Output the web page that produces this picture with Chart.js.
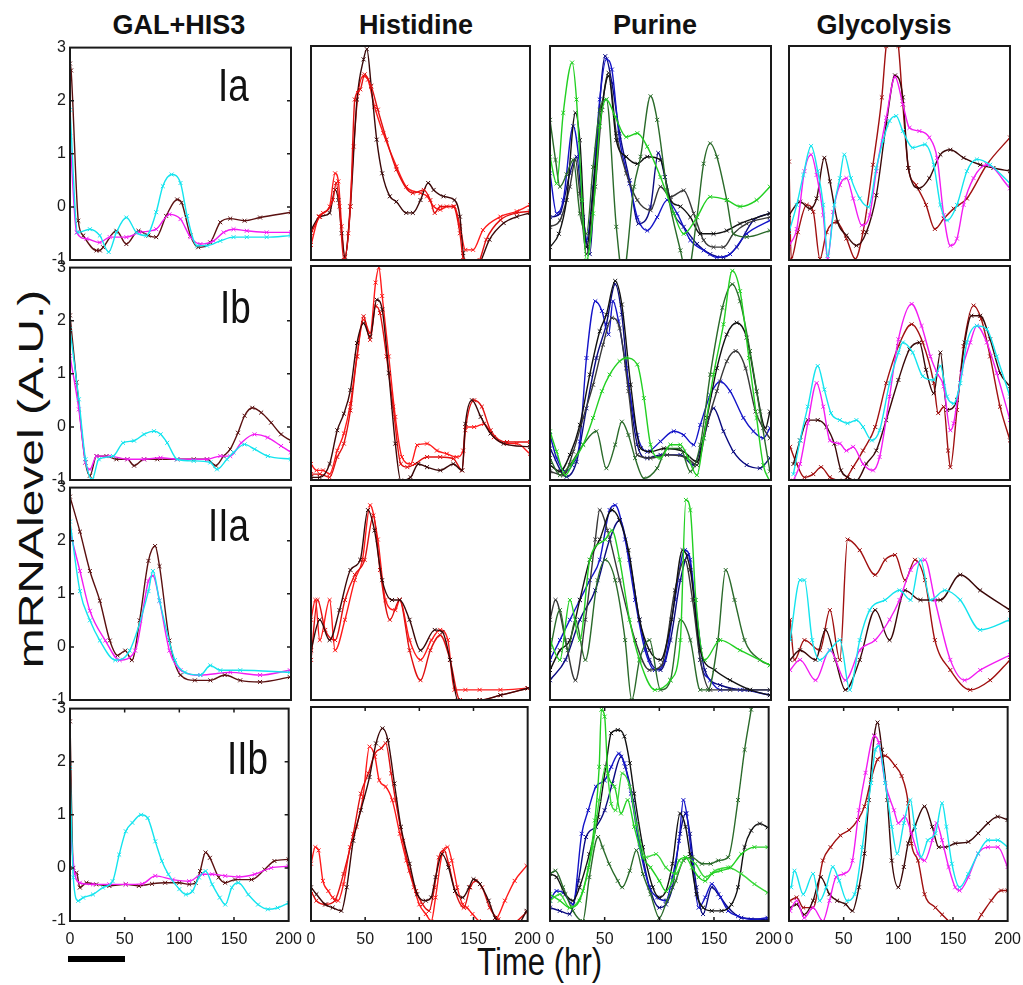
<!DOCTYPE html>
<html>
<head>
<meta charset="utf-8">
<script src="https://cdn.jsdelivr.net/npm/chart.js@4/dist/chart.umd.min.js"></script>
<style>
  html, body { margin: 0; padding: 0; background: #fff; }
  body { width: 1023px; height: 985px; position: relative; overflow: hidden; font-family: "Liberation Sans", Arial, sans-serif; }
  canvas { position: absolute; }
  .title { position: absolute; font-weight: bold; font-size: 27px; line-height: 27px; color: #111; transform: translateX(-50%); white-space: nowrap; }
  .plabel { position: absolute; font-size: 46px; line-height: 46px; color: #111; transform-origin: left top; transform: scaleX(0.8); white-space: nowrap; }
  .ytitle { position: absolute; font-size: 48px; line-height: 48px; color: #111; white-space: nowrap; left: 31px; top: 479px; transform: translate(-50%, -50%) rotate(-90deg) scaleY(0.72); }
  .xtitle { position: absolute; font-size: 38px; line-height: 38px; color: #111; white-space: nowrap; left: 477px; top: 943px; transform-origin: left top; transform: scaleX(0.82); }
  .bar { position: absolute; left: 68px; top: 956px; width: 57px; height: 6px; background: #000; }
</style>
</head>
<body>
<div class="title" style="left:179px; top:12px;">GAL+HIS3</div>
<div class="title" style="left:416px; top:12px;">Histidine</div>
<div class="title" style="left:655px; top:12px;">Purine</div>
<div class="title" style="left:884px; top:12px;">Glycolysis</div>
<div class="ytitle">mRNAlevel (A.U.)</div>
<div class="xtitle">Time (hr)</div>
<div class="bar"></div>
<script>
// ---------------- axis ticks ----------------
const yTicks = [-1, 0, 1, 2, 3];
const xTicks = [0, 50, 100, 150, 200];
const panelNames = ["Ia", "Ib", "IIa", "IIb"];
const columnNames = ["GAL+HIS3", "Histidine", "Purine", "Glycolysis"];

// ---------------- Row Ia ----------------
const galIaBrown = [[0,2.7],[1,2.57],[7.5,-0.26],[12,-0.54],[24,-0.82],[27,-0.82],[30,-0.76],[42,-0.45],[51,-0.7],[62,-0.45],[71,-0.54],[78,-0.57],[87,-0.17],[97,0.14],[101,0.08],[109,-0.54],[116,-0.76],[127,-0.67],[136,-0.29],[145,-0.22],[158,-0.26],[172,-0.2],[200,-0.1]];
const galIaMagenta = [[0,1.33],[6,-0.48],[15,-0.6],[27,-0.67],[36,-0.57],[51,-0.57],[63,-0.48],[78,-0.42],[90,-0.14],[100,-0.23],[109,-0.57],[118,-0.7],[130,-0.64],[139,-0.48],[148,-0.42],[160,-0.45],[178,-0.48],[200,-0.48]];
const galIaCyan = [[0,1.83],[7,-0.48],[18,-0.42],[27,-0.54],[35,-0.85],[42,-0.48],[51,-0.2],[60,-0.48],[69,-0.54],[78,-0.1],[84,0.39],[92,0.61],[100,0.45],[106,-0.17],[115,-0.73],[124,-0.73],[136,-0.64],[148,-0.57],[160,-0.57],[178,-0.57],[200,-0.54]];

const hisIaRed1 = [[0,-0.72],[7,-0.19],[11,-0.12],[17,0],[22,0.62],[25,0.47],[28,-0.37],[31,-0.97],[34,-0.5],[39,1.12],[43,2.12],[48,2.44],[52,2.37],[58,1.87],[66,1.37],[78,0.75],[87,0.37],[100,0.25],[106,0.19],[112,0],[118,-0.06],[124,0],[131,0],[136,-0.37],[141,-0.81],[148,-0.81],[157,-0.44],[173,-0.19],[188,-0.09],[200,0.03]];
const hisIaRed2 = [[0,-0.5],[8,-0.19],[20,0.12],[23,0.44],[26,0],[30,-1],[36,0],[40,2],[45,2.19],[49,2.47],[55,2.25],[61,1.81],[69,1.25],[78,0.69],[93,0.25],[103,0.31],[109,0.12],[113,-0.12],[118,0],[130,0],[136,-0.5],[139,-1],[143,-1.2],[154,-1],[160,-0.62],[173,-0.25],[188,-0.12],[200,-0.09]];
const hisIaBrown = [[0,-0.44],[8,-0.19],[17,-0.12],[22,0.31],[25,0.12],[28,-0.5],[31,-0.94],[36,0],[42,2],[48,2.75],[51,2.94],[55,2.25],[60,1.25],[65,0.62],[72,0.19],[78,0.09],[87,-0.12],[93,-0.12],[100,0.12],[107,0.44],[112,0.31],[121,0.19],[131,0.12],[136,-0.19],[139,-0.87],[145,-1.2],[154,-1.06],[163,-0.62],[176,-0.31],[188,-0.19],[200,-0.12]];

const purIaGreen = [[0,0.93],[6,0.43],[12,1.75],[20,2.69],[24,2.0],[29,0.12],[33,-1.01],[39,-0.13],[45,1.5],[51,2.0],[59,1.68],[69,1.3],[79,1.37],[88,1.12],[100,0.55],[112,-0.13],[121,-0.51],[133,-0.2],[145,0.18],[160,0.12],[172,0],[187,0.12],[199,0.37]];
const purIaDkGreen = [[0,1.62],[5,0.87],[9,0.37],[15,0.6],[21,0.87],[27,-0.13],[33,-0.51],[39,0.74],[45,1.8],[51,2.0],[60,-0.38],[66,-1.3],[76,0.37],[82,0.93],[91,2.06],[97,1.62],[106,0.3],[118,-0.82],[124,-1.3],[133,-0.2],[139,0.8],[145,1.18],[151,0.93],[160,0.12],[166,-0.51],[178,-0.57],[199,-0.45]];
const purIaBlue1 = [[0,0.62],[6,-0.13],[12,0.12],[21,1.5],[27,0.74],[33,-0.63],[39,0.37],[45,2.0],[51,2.75],[56,2.56],[63,1.24],[72,0.43],[79,-0.2],[88,-0.45],[97,-0.2],[106,0.12],[115,-0.13],[127,-0.63],[139,-0.82],[151,-0.95],[163,-0.89],[178,-0.51],[199,-0.26]];
const purIaBlue2 = [[0,-0.2],[9,-0.13],[18,0.62],[24,0.93],[30,-0.2],[36,-0.89],[42,1.06],[50,2.81],[56,2.31],[63,1.37],[72,0.49],[80,-0.32],[91,-0.01],[98,1.0],[104,0.55],[112,-0.13],[121,-0.38],[133,-0.7],[145,-0.89],[157,-0.95],[169,-0.76],[184,-0.26],[199,-0.13]];
const purIaBlack1 = [[0,-0.76],[8,-0.51],[15,0.12],[23,1.75],[27,1.24],[33,-0.76],[41,0.74],[47,1.87],[53,2.44],[60,1.24],[69,0.93],[79,0.8],[88,0.93],[100,0.87],[109,0.12],[118,0],[127,-0.2],[136,-0.51],[148,-0.51],[160,-0.45],[172,-0.32],[199,-0.13]];
const purIaBlack2 = [[0,-0.38],[9,-0.26],[18,0.37],[23,0.87],[27,0.24],[33,-0.89],[41,0.37],[47,1.8],[53,2.5],[60,1.37],[69,0.62],[79,0.12],[91,-0.07],[100,0.37],[109,0.18],[121,0.3],[130,-0.13],[139,-0.63],[148,-0.76],[157,-0.76],[166,-0.51],[178,-0.32],[199,-0.2]];

const glyIaCyan = [[0,-0.48],[7,0.03],[13,0.59],[20,1.13],[26,0.66],[31,0.03],[35,-0.92],[41,0.03],[46,0.53],[50,0.97],[56,0.53],[64,0.15],[72,-0.01],[79,0.72],[85,1.22],[91,1.6],[97,1.69],[103,1.41],[112,1.1],[123,1.16],[131,0.78],[137,0.03],[143,-0.26],[152,0.03],[161,0.66],[170,0.88],[182,0.78],[200,0.43]];
const glyIaMagenta = [[0,-0.73],[7,-0.42],[14,0.66],[20,0.97],[25,0.59],[31,-0.16],[35,-0.98],[40,-0.1],[46,0.4],[52,0.53],[58,0.15],[66,-0.35],[73,-0.16],[79,0.66],[88,1.66],[96,2.42],[103,1.91],[109,1.47],[118,1.41],[127,1.29],[134,0.91],[140,-0.16],[146,-0.73],[152,-0.6],[158,0.03],[167,0.53],[179,0.78],[200,0.34]];
const glyIaBrown = [[0,-0.16],[10,0.09],[19,-0.04],[25,0.15],[32,0.91],[37,0.47],[44,-0.29],[52,-0.54],[61,-0.73],[70,-0.48],[79,0.21],[88,1.54],[96,2.45],[103,2.04],[108,0.72],[118,0.34],[127,0.53],[137,0.97],[146,1.06],[158,0.91],[173,0.78],[185,0.72],[200,0.66]];
const glyIaRed = [[0,0.84],[2,-0.98],[8,-0.48],[16,0.03],[22,-0.1],[28,-0.98],[34,-0.48],[43,-0.29],[52,-0.6],[60,-0.98],[67,-0.48],[76,0.78],[84,2.04],[88,3],[94,3.4],[99,3],[103,1.91],[108,0.72],[115,0.4],[124,0.03],[132,-0.42],[140,-0.23],[149,-0.04],[161,0.15],[179,0.78],[200,1.29]];

// ---------------- Row Ib ----------------
const galIbBrown = [[0,2.1],[6,0.84],[14,-0.67],[18,-0.92],[24,-0.55],[33,-0.55],[42,-0.61],[52,-0.61],[58,-0.73],[67,-0.61],[79,-0.61],[97,-0.61],[112,-0.61],[124,-0.61],[132,-0.73],[139,-0.55],[145,-0.42],[152,-0.11],[158,0.21],[165,0.36],[173,0.27],[182,0.08],[191,-0.14],[200,-0.26]];
const galIbMagenta = [[0,1.34],[8,0.33],[14,-0.67],[18,-0.8],[24,-0.55],[36,-0.55],[52,-0.61],[67,-0.61],[82,-0.58],[97,-0.61],[124,-0.61],[136,-0.55],[145,-0.55],[155,-0.3],[167,-0.14],[179,-0.2],[191,-0.36],[200,-0.48]];
const galIbCyan = [[0,1.84],[8,0.52],[14,-0.61],[20,-0.99],[26,-0.61],[39,-0.55],[48,-0.3],[58,-0.26],[67,-0.14],[76,-0.08],[82,-0.14],[88,-0.3],[97,-0.61],[112,-0.64],[127,-0.67],[133,-0.8],[142,-0.61],[148,-0.48],[158,-0.33],[167,-0.42],[179,-0.55],[200,-0.61]];

const hisIbRed1 = [[0,-0.7],[5,-0.82],[11,-0.82],[17,-0.89],[24,-0.45],[30,-0.13],[36,0.43],[42,1.31],[48,2.0],[54,1.75],[59,2.69],[62,2.97],[65,2.44],[71,1.31],[77,0.18],[83,-0.57],[91,-0.7],[97,-0.35],[106,-0.32],[115,-0.45],[124,-0.51],[133,-0.57],[139,-0.45],[141,-0.01],[149,-0.01],[158,0.05],[167,-0.2],[179,-0.32],[188,-0.32],[200,-0.51]];
const hisIbRed2 = [[0,-0.89],[8,-0.89],[17,-0.95],[24,-0.57],[30,-0.32],[36,0.3],[42,1.31],[48,2.06],[54,1.62],[59,2.25],[63,2.12],[69,1.31],[75,0.37],[82,-0.7],[88,-0.76],[95,-0.7],[106,-0.57],[118,-0.57],[130,-0.6],[138,-0.82],[141,-0.07],[149,0.49],[156,0.37],[164,-0.07],[179,-0.29],[200,-0.29]];
const hisIbBrown = [[0,-0.95],[8,-0.95],[17,-0.7],[24,-0.07],[30,0.24],[36,0.68],[42,1.56],[48,1.93],[54,1.68],[60,2.37],[65,2.19],[71,1.0],[77,-0.32],[82,-1.01],[91,-0.95],[98,-0.7],[106,-0.76],[118,-0.82],[130,-0.7],[138,-0.82],[141,0.05],[147,0.49],[155,0.18],[164,-0.13],[176,-0.32],[200,-0.38]];

const purIbGreen = [[0,-0.09],[6,-0.47],[14,-0.91],[21,-0.66],[30,-0.34],[39,0.16],[47,0.66],[54,0.97],[63,1.22],[69,1.28],[79,1.16],[85,0.53],[91,-0.34],[100,-0.59],[109,-0.34],[118,-0.34],[125,-0.59],[133,-0.91],[139,-0.22],[148,0.97],[157,1.91],[165,2.91],[172,2.53],[180,1.28],[187,0.16],[193,-0.72],[199,-1.03]];
const purIbDkGreen = [[0,-0.59],[9,-0.91],[18,-0.72],[30,-0.34],[42,-0.09],[51,-0.78],[59,-0.34],[65,0.09],[71,-0.16],[77,-0.59],[85,-0.97],[97,-0.78],[106,-0.41],[118,-0.41],[127,-0.84],[136,-0.34],[145,0.97],[156,2.22],[165,2.66],[172,2.34],[181,1.41],[190,0.28],[199,-0.84]];
const purIbBlue1 = [[0,-0.16],[6,-0.59],[14,-0.84],[20,-0.72],[27,-0.28],[33,1.28],[41,2.34],[47,2.16],[53,1.72],[57,2.34],[62,1.97],[69,1.09],[79,-0.16],[88,-0.47],[100,-0.28],[112,-0.09],[121,-0.16],[130,-0.34],[136,0.03],[145,0.59],[154,0.84],[163,0.66],[175,0.16],[184,-0.09],[193,-0.22],[199,-0.03]];
const purIbBlue2 = [[0,-0.41],[15,-0.94],[24,-0.66],[33,0.34],[42,1.28],[51,1.91],[59,2.66],[65,2.09],[71,0.78],[79,-0.34],[88,-0.59],[100,-0.53],[118,-0.53],[130,-0.72],[139,-0.22],[148,0.34],[157,-0.09],[166,-0.47],[178,-0.72],[190,-0.78],[199,-0.59]];
const purIbBlack1 = [[0,-0.72],[9,-0.84],[18,-0.53],[27,0.03],[36,0.97],[45,1.78],[51,2.09],[59,2.72],[65,2.28],[73,0.78],[82,-0.41],[91,-0.47],[103,-0.41],[121,-0.47],[133,-0.66],[142,0.16],[151,1.09],[160,1.72],[169,1.94],[178,1.66],[187,0.66],[195,-0.03],[199,0.28]];
const purIbBlack2 = [[0,-0.84],[12,-0.91],[21,-0.47],[30,0.16],[39,0.78],[48,1.53],[56,2.03],[63,1.84],[71,0.66],[79,-0.53],[91,-0.59],[106,-0.53],[124,-0.59],[133,-0.72],[142,0.03],[151,0.66],[160,1.22],[168,1.41],[177,1.09],[186,0.28],[193,-0.03],[199,-0.22]];

const glyIbCyan = [[4,-0.89],[10,-0.26],[17,0.37],[26,1.13],[32,0.69],[38,0.25],[46,0.12],[53,0.06],[61,0.12],[67,-0.01],[75,-0.26],[82,-0.07],[91,0.81],[99,1.38],[103,1.57],[112,1.38],[121,0.94],[131,0.87],[137,1.13],[143,0.56],[149,0.43],[155,0.81],[161,1.57],[170,1.88],[179,1.82],[188,1.31],[200,0.56]];
const glyIbMagenta = [[4,-1.01],[10,-0.7],[17,0.06],[25,0.81],[31,0.37],[37,-0.26],[46,-0.32],[52,-0.45],[58,-0.38],[67,-0.7],[76,-0.82],[82,-0.57],[91,0.56],[99,1.63],[111,2.29],[120,1.88],[128,1.31],[134,1.0],[140,0.75],[146,-0.07],[149,0.06],[156,1.0],[164,1.57],[170,1.88],[179,1.57],[188,1.0],[200,0.12]];
const glyIbBrown = [[4,-0.7],[10,-0.26],[17,0.12],[26,0.12],[34,-0.01],[41,-0.32],[47,-0.82],[53,-0.95],[61,-1.01],[70,-0.7],[79,-0.45],[88,0.12],[99,0.87],[109,1.44],[118,1.57],[124,1.06],[131,0.62],[137,1.38],[143,0.31],[152,0.5],[159,1.57],[165,2.07],[173,2.07],[182,1.63],[191,1.0],[200,0.75]];
const glyIbRed = [[1,-0.38],[7,-0.7],[14,-0.95],[22,-0.89],[29,-0.76],[37,-0.95],[49,-1.01],[58,-0.76],[67,-0.45],[78,-0.01],[88,0.81],[99,1.5],[111,1.91],[121,1.57],[131,0.81],[135,0.25],[140,0.37],[144,-0.45],[146,-0.76],[152,0.31],[158,1.5],[167,2.26],[174,2.01],[182,1.31],[191,0.37],[200,-0.26]];

// ---------------- Row IIa ----------------
const galIIaBrown = [[0,2.83],[9,2.17],[18,1.43],[27,0.87],[36,0.12],[43,-0.16],[50,-0.07],[56,-0.25],[63,0.5],[71,1.62],[77,1.9],[81,1.52],[90,0.12],[100,-0.53],[113,-0.63],[127,-0.63],[140,-0.53],[154,-0.63],[172,-0.66],[199,-0.57]];
const galIIaMagenta = [[0,2.17],[9,1.43],[18,0.68],[32,0.12],[45,-0.25],[59,-0.07],[71,1.24],[75,1.34],[81,0.87],[90,-0.07],[100,-0.44],[118,-0.53],[145,-0.48],[172,-0.53],[199,-0.44]];
const galIIaCyan = [[0,2.36],[9,1.05],[18,0.5],[27,0.12],[41,-0.25],[54,-0.07],[71,1.05],[75,1.43],[81,0.87],[95,-0.25],[104,-0.48],[118,-0.53],[127,-0.35],[136,-0.44],[154,-0.44],[199,-0.48]];

const hisIIaRed1 = [[0,0.5],[4,0.87],[8,0.12],[17,0.87],[22,-0.07],[31,0.5],[40,1.24],[47,1.62],[54,2.64],[61,2.0],[68,0.87],[77,0.68],[81,0.87],[90,0.12],[100,-0.25],[110,0.12],[118,0.31],[125,0.12],[131,-0.81],[141,-0.81],[154,-0.81],[173,-0.81],[198,-0.78]];
const hisIIaRed2 = [[0,-0.25],[6,0.87],[13,0.31],[22,0.12],[31,0.87],[40,1.34],[49,1.62],[57,2.45],[63,1.43],[72,0.5],[81,0.87],[90,-0.07],[100,-0.63],[109,-0.07],[118,0.21],[127,-0.25],[136,-1],[154,-1],[173,-0.91],[198,-0.78]];
const hisIIaBrown = [[0,-0.07],[8,0.5],[17,0.12],[26,0.68],[36,1.43],[45,1.62],[52,2.55],[58,2.17],[65,1.24],[74,0.87],[81,0.87],[90,0.5],[100,-0.07],[113,0.31],[120,0.27],[127,-0.25],[134,-1],[154,-1],[173,-0.91],[198,-0.78]];

const purIIaGreen = [[0,0.12],[9,-0.25],[18,0.87],[27,0.12],[36,1.62],[50,2.0],[56,2.17],[63,1.62],[72,0.5],[81,-0.25],[95,-0.81],[109,-0.63],[118,0.12],[123,2.74],[127,2.55],[132,0.87],[140,-0.25],[154,0.12],[172,-0.07],[199,-0.35]];
const purIIaDkGreen = [[0,-0.07],[9,0.68],[16,-0.07],[23,0.5],[32,-0.25],[43,1.24],[50,1.62],[59,1.24],[68,0.12],[74,-1],[81,-0.25],[90,0.12],[100,-0.81],[109,-0.63],[118,0.5],[127,0.12],[136,-0.81],[143,-0.81],[152,0.12],[159,1.43],[167,0.87],[176,0.12],[190,-0.25],[199,-0.35]];
const purIIaBlue1 = [[0,-0.25],[9,0.12],[18,0.5],[27,0.87],[36,1.24],[45,1.62],[54,2.55],[59,2.64],[68,2.0],[77,0.87],[86,-0.07],[95,-0.44],[104,-0.25],[113,0.87],[122,1.8],[127,1.62],[136,-0.25],[145,-0.63],[154,-0.81],[172,-0.81],[199,-0.91]];
const purIIaBlue2 = [[0,-0.63],[14,-0.25],[27,0.5],[41,1.05],[54,2.0],[63,2.36],[72,1.62],[81,0.5],[90,-0.25],[100,-0.44],[109,0.12],[118,1.24],[125,1.71],[131,0.87],[140,-0.44],[154,-0.72],[176,-0.81],[199,-0.81]];
const purIIaBlack1 = [[0,-0.44],[9,-0.07],[18,0.12],[27,0.87],[36,1.62],[45,2.0],[56,2.55],[63,2.36],[71,1.8],[81,0.5],[90,-0.07],[100,-0.25],[110,0.5],[120,1.8],[127,1.43],[136,-0.07],[149,-0.44],[163,-0.63],[181,-0.81],[199,-0.91]];
const purIIaBlack2 = [[0,0.5],[5,0.87],[14,0.12],[23,-0.63],[32,0.5],[41,2.0],[45,2.55],[52,2.17],[63,1.24],[77,0.12],[90,-0.44],[101,-0.35],[113,1.05],[122,1.62],[129,0.87],[136,-0.25],[145,-0.81],[163,-0.81],[181,-0.81],[199,-0.81]];

const glyIIaCyan = [[1,0.12],[10,1.24],[14,1.24],[21,0.12],[28,-0.25],[37,-0.07],[46,0.12],[55,-0.81],[64,0.12],[73,0.68],[87,0.87],[100,1.05],[110,0.87],[119,1.62],[128,0.87],[141,1.05],[155,0.87],[173,0.31],[200,0.5]];
const glyIIaMagenta = [[1,-0.44],[10,-0.25],[24,-0.63],[37,-0.07],[51,-0.63],[64,-0.07],[78,0.12],[91,0.5],[100,0.87],[110,1.43],[123,1.62],[132,0.87],[146,-0.25],[159,-0.63],[173,-0.44],[200,-0.16]];
const glyIIaBrown = [[1,-0.25],[10,-0.07],[24,-0.25],[33,0.31],[42,-0.25],[51,-0.81],[64,-0.25],[78,0.68],[91,0.12],[105,1.05],[119,0.87],[137,0.87],[155,1.34],[173,1.05],[200,0.68]];
const glyIIaRed = [[1,0.5],[5,-0.25],[14,0.12],[28,-0.07],[37,0.68],[46,-0.25],[53,2.0],[64,1.8],[78,1.34],[87,1.62],[96,1.71],[105,1.24],[114,1.62],[123,1.24],[132,0.12],[146,-0.44],[164,-0.81],[182,-0.63],[200,-0.25]];

// ---------------- Row IIb ----------------
const galIIbBrown = [[0,2.76],[3,0],[6,-0.09],[9,-0.37],[15,-0.28],[24,-0.31],[36,-0.34],[51,-0.31],[63,-0.34],[75,-0.3],[87,-0.28],[100,-0.28],[109,-0.31],[115,-0.28],[119,-0.06],[124,0.29],[128,0.19],[136,-0.18],[142,-0.28],[151,-0.22],[166,-0.22],[178,-0.03],[187,0.13],[200,0.16]];
const galIIbMagenta = [[0,0.75],[4.5,-0.12],[9,-0.28],[21,-0.31],[36,-0.31],[51,-0.31],[66,-0.3],[78,-0.15],[94,-0.22],[109,-0.25],[121,-0.12],[130,-0.12],[142,-0.15],[154,-0.17],[169,-0.12],[184,0],[200,0.03]];
const galIIbCyan = [[0,1.88],[3,-0.18],[7.5,-0.62],[12,-0.56],[21,-0.5],[30,-0.37],[39,-0.25],[45,0.25],[51,0.69],[57,0.85],[65,1.0],[71,0.94],[78,0.5],[84,0.13],[90,-0.12],[100,-0.4],[106,-0.5],[112,-0.44],[118,-0.18],[124,-0.06],[130,-0.31],[137,-0.56],[142,-0.69],[148,-0.37],[154,-0.28],[163,-0.5],[172,-0.69],[181,-0.78],[190,-0.75],[200,-0.66]];

const hisIIbRed1 = [[0,0.07],[4,0.38],[7,0.32],[11,-0.25],[16,-0.44],[20,-0.56],[25,-0.62],[30,-0.31],[36,0.38],[42,0.76],[48,1.32],[54,2.26],[59,2.07],[63,1.63],[69,1.51],[75,1.26],[82,0.63],[88,0.13],[95,-0.37],[100,-0.69],[106,-0.87],[111,-1],[115,-0.56],[121,0.25],[126,0.38],[130,0.13],[135,-0.37],[140,-0.69],[144,-0.75],[149,-0.87],[155,-1],[161,-1.05],[170,-1],[179,-0.62],[188,-0.25],[199,0.03]];
const hisIIbRed2 = [[0,-0.44],[5,-0.62],[14,-0.69],[22,-0.62],[30,-0.12],[39,0.63],[46,1.38],[53,1.76],[59,2.13],[65,2.23],[69,2.32],[74,1.76],[78,1.26],[85,0.5],[91,-0.06],[97,-0.44],[103,-0.69],[109,-0.81],[114,-0.37],[118,0.19],[123,0.32],[127,0.07],[133,-0.44],[141,-0.75],[147,-0.37],[152,-0.25],[158,-0.37],[165,-0.75],[173,-0.97],[185,-1.05],[199,-0.84]];
const hisIIbBrown = [[0,-0.37],[5,-0.5],[13,-0.69],[20,-0.75],[28,-0.81],[33,-0.37],[39,0.5],[46,1.07],[54,1.69],[60,2.32],[66,2.6],[71,2.38],[77,1.57],[83,0.76],[91,0.07],[98,-0.5],[106,-0.62],[111,-0.56],[115,-0.18],[121,0.25],[127,0],[133,-0.44],[140,-0.56],[146,-0.37],[150,-0.22],[156,-0.31],[164,-0.62],[170,-0.94],[179,-1.05],[191,-1.05],[199,-0.81]];

const purIIbGreen = [[0,-0.5],[9,-0.62],[18,-0.75],[27,-0.62],[35,0],[41,0.88],[45,1.88],[47,2.95],[50,2.82],[53,1.76],[59,1.51],[65,1.01],[71,1.26],[77,0.76],[85,0.19],[92,0],[100,-0.25],[106,-0.44],[112,-0.25],[118,0.13],[124,0.19],[130,0],[136,-0.18],[142,-0.25],[148,-0.12],[156,-0.06],[165,0],[175,0.25],[187,0.38],[199,0.38]];
const purIIbGreen2 = [[0,-0.62],[9,-0.5],[18,-0.75],[30,-0.44],[39,0.38],[45,1.26],[51,1.88],[56,1.19],[60,1.07],[66,1.76],[73,1.51],[79,0.82],[88,0.19],[97,0.25],[106,0],[115,-0.12],[124,0.19],[133,0.07],[142,-0.18],[151,-0.06],[163,0],[175,-0.12],[187,-0.31],[199,-0.47]];
const purIIbDkGreen = [[0,-0.12],[5,-0.06],[12,-0.37],[21,-0.81],[30,-1],[36,-0.18],[44,0.57],[48,0.38],[54,0.07],[62,-0.25],[66,-0.37],[73,-0.06],[79,0.32],[85,-0.12],[92,-0.5],[100,-0.94],[107,-0.62],[115,-0.25],[122,0.13],[130,0.19],[139,0.07],[147,0.07],[154,0.13],[163,0.19],[172,1.26],[178,2.2],[184,2.95],[190,3.8],[199,5]];
const purIIbBlack = [[0,-0.12],[6,-0.18],[14,-0.5],[21,-0.62],[27,-0.37],[36,0.25],[44,0.94],[51,1.88],[56,2.51],[62,2.57],[68,2.45],[73,1.95],[77,1.38],[85,0.38],[94,-0.37],[100,-0.56],[106,-0.44],[112,0.07],[119,1.01],[124,0.76],[128,0.25],[134,-0.5],[140,-0.75],[148,-0.81],[157,-0.81],[166,-0.69],[172,-0.37],[178,0.38],[184,0.69],[192,0.82],[199,0.75]];
const purIIbBlue1 = [[0,-0.62],[6,-0.44],[12,-0.47],[21,-0.69],[29,0.63],[35,1.07],[42,1.51],[50,1.63],[56,1.88],[63,2.13],[68,1.95],[74,1.38],[82,0.38],[91,-0.37],[98,-0.56],[106,-0.62],[112,-0.18],[118,0.5],[122,1.26],[125,1.01],[130,0.13],[136,-0.75],[142,-0.56],[148,-0.31],[156,-0.56],[163,-0.81],[172,-0.91],[184,-0.97],[199,-0.94]];
const purIIbBlue2 = [[0,-0.75],[9,-0.81],[18,-0.87],[26,-0.25],[33,0.57],[42,0.76],[50,1.07],[57,1.57],[65,2.07],[69,1.88],[76,1.26],[82,0.5],[91,-0.37],[100,-0.75],[106,-0.69],[112,-0.37],[119,0.63],[124,1.01],[128,0.63],[134,-0.37],[140,-0.87],[148,-0.37],[154,-0.5],[163,-0.75],[175,-0.94],[199,-0.97]];

const glyIIbCyan = [[2,-0.37],[5,-0.06],[13,-0.5],[22,-0.12],[28,-0.62],[34,-0.37],[40,0.01],[46,-0.25],[53,-0.62],[60,-0.5],[67,0.38],[75,1.58],[79,2.2],[82,2.27],[88,1.58],[94,0.76],[99,0.26],[105,0.83],[111,1.26],[115,0.76],[121,0.2],[127,0.51],[134,0.64],[140,1.2],[144,0.76],[149,0.07],[156,-0.37],[164,-0.12],[173,0.26],[182,0.51],[191,0.51],[200,0.38]];
const glyIIbMagenta = [[1,-0.81],[7,-0.62],[14,-0.94],[22,-0.75],[31,-1],[37,-0.62],[43,-0.18],[50,-0.12],[58,0.13],[64,1.07],[70,1.77],[78,2.46],[82,2.34],[88,1.58],[96,1.07],[100,0.83],[106,0.95],[112,0.64],[118,0.26],[124,0.13],[131,0.51],[135,0.83],[140,0.51],[146,0.01],[152,-0.37],[156,-0.43],[164,-0.18],[173,0.26],[182,0.38],[191,0.38],[200,0.01]];
const glyIIbBrown = [[1,-0.75],[7,-0.69],[14,-0.88],[22,-0.62],[29,-0.18],[37,-0.5],[44,-0.62],[52,-0.69],[58,-0.81],[64,-0.37],[69,0.26],[73,1.26],[78,2.46],[81,2.71],[85,2.2],[90,1.26],[94,0.13],[100,-0.37],[105,0.01],[109,0.45],[115,0.76],[124,1.14],[131,0.76],[137,0.38],[143,0.38],[152,0.45],[164,0.48],[173,0.64],[182,0.83],[191,0.95],[200,0.89]];
const glyIIbRed = [[1,-0.62],[7,-0.56],[13,-0.75],[22,-0.75],[31,0.13],[38,0.38],[47,0.6],[55,0.7],[63,0.89],[69,1.14],[75,1.64],[81,2.02],[88,2.09],[97,1.9],[103,1.71],[109,1.2],[112,0.45],[118,0.13],[124,-0.5],[134,-0.75],[140,-0.88],[146,-1],[155,-1.13],[167,-1.13],[176,-0.88],[185,-0.62],[194,-0.43],[200,-0.43]];

// ---------------- colours ----------------
const C = {
  brown: "#5a1010", magenta: "#f21cf2", cyan: "#14e4ee",
  red: "#ff1a1a", red2: "#e01010", dkbrown: "#3a0808",
  green: "#22d022", dkgreen: "#2a6a2a", blue: "#1414c8", navy: "#0a0a80",
  black: "#111111", gray: "#383838", dkred: "#a01010"
};

const panels = [
  [[[galIaCyan,C.cyan],[galIaMagenta,C.magenta],[galIaBrown,C.brown]],
   [[hisIaRed2,C.red2],[hisIaBrown,C.dkbrown],[hisIaRed1,C.red]],
   [[purIaGreen,C.green],[purIaDkGreen,C.dkgreen],[purIaBlack1,C.black],[purIaBlack2,C.gray],[purIaBlue1,C.blue],[purIaBlue2,C.navy]],
   [[glyIaCyan,C.cyan],[glyIaMagenta,C.magenta],[glyIaBrown,C.dkbrown],[glyIaRed,C.dkred]]],
  [[[galIbCyan,C.cyan],[galIbMagenta,C.magenta],[galIbBrown,C.brown]],
   [[hisIbBrown,C.dkbrown],[hisIbRed2,C.red2],[hisIbRed1,C.red]],
   [[purIbGreen,C.green],[purIbDkGreen,C.dkgreen],[purIbBlack1,C.black],[purIbBlack2,C.gray],[purIbBlue1,C.blue],[purIbBlue2,C.navy]],
   [[glyIbCyan,C.cyan],[glyIbMagenta,C.magenta],[glyIbBrown,C.dkbrown],[glyIbRed,C.dkred]]],
  [[[galIIaCyan,C.cyan],[galIIaMagenta,C.magenta],[galIIaBrown,C.brown]],
   [[hisIIaBrown,C.dkbrown],[hisIIaRed2,C.red2],[hisIIaRed1,C.red]],
   [[purIIaGreen,C.green],[purIIaDkGreen,C.dkgreen],[purIIaBlack1,C.black],[purIIaBlack2,C.gray],[purIIaBlue1,C.blue],[purIIaBlue2,C.navy]],
   [[glyIIaCyan,C.cyan],[glyIIaMagenta,C.magenta],[glyIIaBrown,C.dkbrown],[glyIIaRed,C.dkred]]],
  [[[galIIbCyan,C.cyan],[galIIbMagenta,C.magenta],[galIIbBrown,C.brown]],
   [[hisIIbBrown,C.dkbrown],[hisIIbRed2,C.red2],[hisIIbRed1,C.red]],
   [[purIIbGreen,C.green],[purIIbGreen2,"#3ad83a"],[purIIbDkGreen,C.dkgreen],[purIIbBlack,C.black],[purIIbBlue1,C.blue],[purIIbBlue2,C.navy]],
   [[glyIIbCyan,C.cyan],[glyIIbMagenta,C.magenta],[glyIIbBrown,C.dkbrown],[glyIIbRed,C.dkred]]]
];

// ---------------- layout ----------------
const colLeft = [70, 311, 550, 789];
const colWidth = [221, 219, 221, 221];
const rowTop = [46, 266, 486, 707];
const rowHeight = 214;
const labelPos = [[218, 62], [220, 284], [208, 502], [227, 735]];

const framePlugin = {
  id: "frame",
  afterDatasetsDraw(chart, args, opts) {
    const a = chart.chartArea, ctx = chart.ctx;
    const xs = chart.scales.x, ys = chart.scales.y;
    ctx.save();
    ctx.strokeStyle = "#1a1a1a";
    ctx.lineWidth = 2;
    ctx.strokeRect(a.left, a.top, a.right - a.left, a.bottom - a.top);
    ctx.lineWidth = 1.5;
    if (opts.yMarks) {
      [0, 1, 2].forEach(v => {
        const py = ys.getPixelForValue(v);
        ctx.beginPath();
        ctx.moveTo(a.left, py); ctx.lineTo(a.left + 4, py);
        ctx.moveTo(a.right, py); ctx.lineTo(a.right - 4, py);
        ctx.stroke();
      });
    }
    if (opts.xMarks) {
      [50, 100, 150].forEach(v => {
        const px = xs.getPixelForValue(v);
        ctx.beginPath();
        ctx.moveTo(px, a.top); ctx.lineTo(px, a.top + 4);
        ctx.moveTo(px, a.bottom); ctx.lineTo(px, a.bottom - 4);
        ctx.stroke();
      });
    }
    ctx.restore();
  }
};

const PADL = 40, PADT = 12, PADR = 20, PADB = 34;

for (let r = 0; r < 4; r++) {
  for (let c = 0; c < 4; c++) {
    const cv = document.createElement("canvas");
    const w = colWidth[c] + PADL + PADR;
    const h = rowHeight + PADT + PADB;
    cv.width = w; cv.height = h;
    cv.style.left = (colLeft[c] - PADL) + "px";
    cv.style.top = (rowTop[r] - PADT) + "px";
    cv.style.width = w + "px"; cv.style.height = h + "px";
    document.body.appendChild(cv);

    const datasets = panels[r][c].map(([pts, col]) => ({
      data: pts.map(p => ({ x: p[0], y: p[1] })),
      borderColor: col,
      backgroundColor: col,
      borderWidth: 1.4,
      pointStyle: "crossRot",
      pointRadius: 2.8,
      pointBorderWidth: 1,
      pointBorderColor: col,
      cubicInterpolationMode: "monotone",
      fill: false
    }));

    new Chart(cv, {
      type: "line",
      data: { datasets },
      plugins: [framePlugin],
      options: {
        responsive: false,
        animation: false,
        devicePixelRatio: 1,
        layout: { padding: { left: 0, top: PADT, right: PADR, bottom: 0 }, autoPadding: false },
        plugins: { legend: { display: false }, tooltip: { enabled: false }, frame: { yMarks: c === 0, xMarks: r === 3 } },
        scales: {
          x: {
            type: "linear", min: 0, max: 200,
            afterFit(s) { s.height = PADB; },
            afterBuildTicks(s) { s.ticks = xTicks.map(v => ({ value: v })); },
            grid: { display: false, drawTicks: false },
            border: { display: false },
            ticks: { display: r === 3, autoSkip: false, maxRotation: 0, padding: 9, color: "#1a1a1a", font: { family: "Liberation Sans", size: 16 } }
          },
          y: {
            type: "linear", min: -1, max: 3,
            afterFit(s) { s.width = PADL; },
            afterBuildTicks(s) { s.ticks = yTicks.map(v => ({ value: v })); },
            grid: { display: false, drawTicks: false },
            border: { display: false },
            ticks: { display: c === 0, autoSkip: false, padding: 4, color: "#1a1a1a", font: { family: "Liberation Sans", size: 16 } }
          }
        }
      }
    });
  }
  const lab = document.createElement("div");
  lab.className = "plabel";
  lab.textContent = panelNames[r];
  lab.style.left = labelPos[r][0] + "px";
  lab.style.top = labelPos[r][1] + "px";
  document.body.appendChild(lab);
}
</script>
</body>
</html>
